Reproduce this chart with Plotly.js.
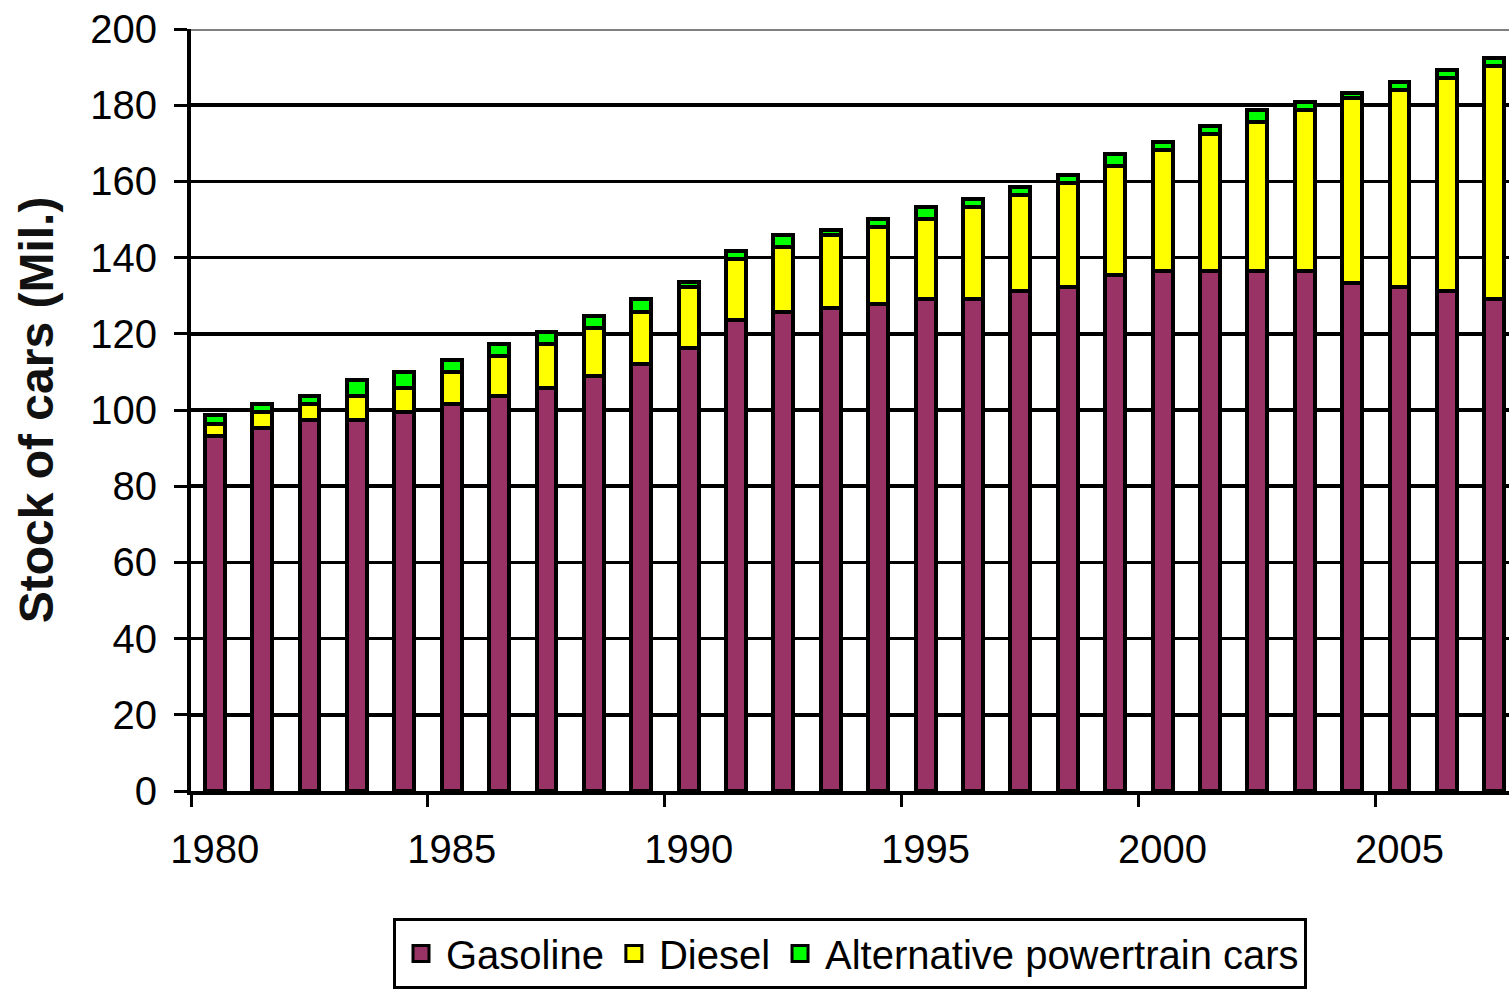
<!DOCTYPE html>
<html>
<head>
<meta charset="utf-8">
<script src="https://cdn.plot.ly/plotly-3.0.1.min.js"></script>
<style>html,body{margin:0;padding:0;background:#fff;overflow:hidden;}#chart{width:1509px;height:989px;}</style>
</head>
<body>
<div id="chart"></div>
<script>
const years = [1980,1981,1982,1983,1984,1985,1986,1987,1988,1989,1990,1991,1992,1993,1994,1995,1996,1997,1998,1999,2000,2001,2002,2003,2004,2005,2006,2007];
const gasoline = [93.1,95.3,97.4,97.4,99.5,101.6,103.7,105.8,108.9,112.1,116.3,123.6,125.7,126.8,127.8,129.1,129.1,131.2,132.3,135.4,136.5,136.5,136.5,136.5,133.3,132.3,131.2,129.1];
const diesel = [3.3,4.2,4.2,6.3,6.3,8.4,10.5,11.5,12.6,13.6,16.0,16.0,17.1,19.1,20.2,21.0,24.2,25.2,27.3,28.7,31.7,35.9,39.1,42.2,48.6,51.7,55.9,61.2];
const alternative = [2.4,2.1,2.1,4.2,4.2,3.1,3.1,3.2,3.2,3.4,1.3,2.1,3.1,1.3,2.1,3.2,2.1,2.1,2.1,3.1,2.1,2.1,3.1,2.1,1.3,2.1,2.1,2.1];
const seriesNames = ['Gasoline','Diesel','Alternative powertrain cars'];
const xTickVals = [1980,1985,1990,1995,2000,2005];
const xTickText = ['1980','1985','1990','1995','2000','2005'];
const yTickVals = [0,20,40,60,80,100,120,140,160,180,200];
const yTitle = 'Stock of cars (Mil.)';

const colors = ['#993366','#FFFF00','#00FF00'];
const line = {color:'#000000', width:4};
const font = 'Liberation Sans, Arial, sans-serif';

const traces = [gasoline, diesel, alternative].map((vals, i) => ({
  type:'bar', x: years, y: vals, name: seriesNames[i],
  marker:{color: colors[i], line: line},
  showlegend:false, hoverinfo:'skip'
}));
// legend-only entries (no data) so the legend swatches can be larger squares
seriesNames.forEach((n, i) => traces.push({
  type:'scatter', mode:'markers', x:[null], y:[null], name:n,
  marker:{symbol:'square', size:16, color:colors[i], line:{color:'#000000', width:3}},
  showlegend:true, hoverinfo:'skip'
}));

const layout = {
  width:1509, height:989,
  margin:{l:191, r:0, t:29, b:198},
  paper_bgcolor:'#ffffff', plot_bgcolor:'#ffffff',
  barmode:'stack', bargap:0.58,
  font:{family:font, color:'#000000', size:40},
  showlegend:true,
  legend:{orientation:'h', x:0.5, xanchor:'center', y:-0.1667, yanchor:'top',
    bordercolor:'#000000', borderwidth:3, bgcolor:'#ffffff', itemwidth:40,
    font:{family:font, size:40, color:'#000000'}, traceorder:'normal'},
  xaxis:{type:'linear', range:[1979.5, 2007.31], tickmode:'array', tickvals: xTickVals, ticktext: xTickText,
    ticks:'', showgrid:false, zeroline:false, showline:true, linecolor:'#000000', linewidth:4,
    tickfont:{family:font, size:40, color:'#000000'}, ticklabelstandoff:20,
    minor:{tick0:1979.5, dtick:5, ticks:'outside', ticklen:12, tickwidth:3, tickcolor:'#000000', showgrid:false},
    fixedrange:true},
  yaxis:{range:[0,200], tickmode:'array', tickvals: yTickVals, ticks:'outside', ticklen:13, tickwidth:3, tickcolor:'#000000',
    showline:true, linecolor:'#000000', linewidth:4, showgrid:true, gridcolor:'#000000', gridwidth:3.5, zeroline:false,
    tickfont:{family:font, size:40, color:'#000000'}, ticklabelstandoff:9,
    title:{text: yTitle, font:{family:font, size:48, weight:'bold', color:'#111111'}, standoff:22},
    automargin:false, fixedrange:true},
  shapes:[{type:'line', xref:'paper', yref:'y', x0:0, x1:1, y0:200, y1:200, line:{color:'#808080', width:4}, layer:'above'}]
};

Plotly.newPlot('chart', traces, layout, {displayModeBar:false, staticPlot:true});
</script>
</body>
</html>
